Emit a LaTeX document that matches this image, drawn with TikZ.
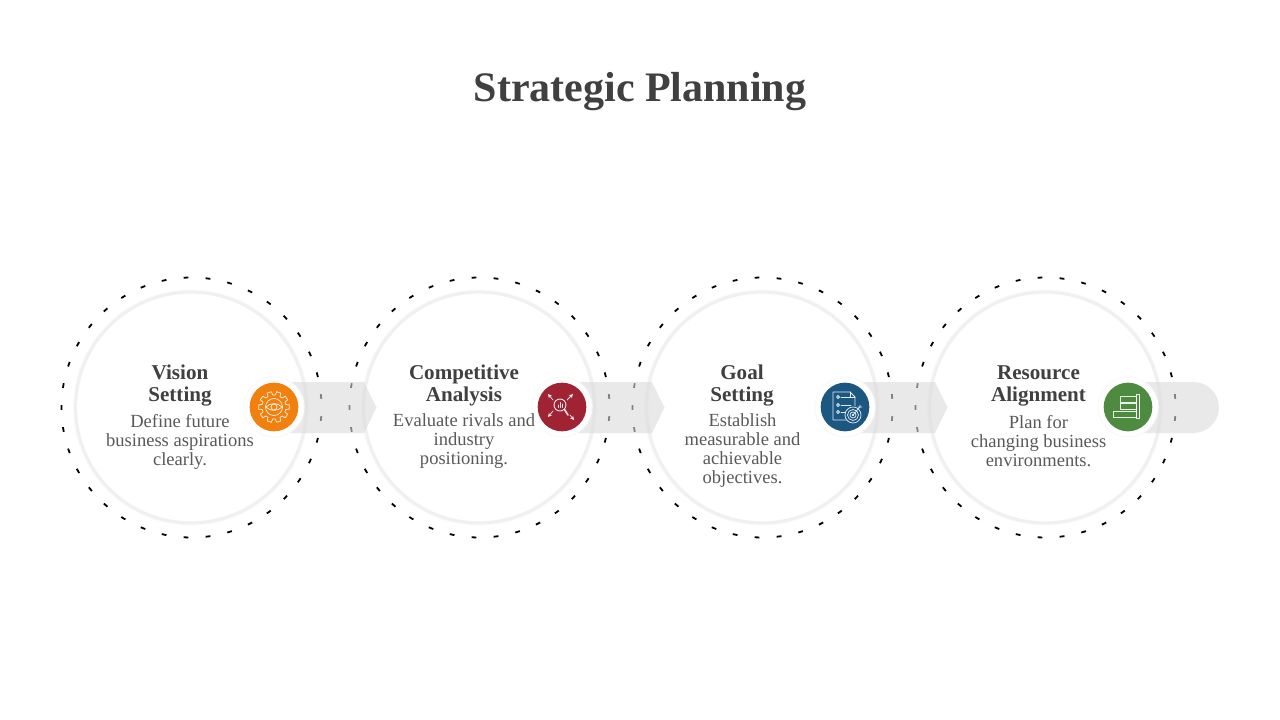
\documentclass[tikz,border=0pt]{standalone}
\usepackage{fontspec}
\setmainfont{Liberation Serif}
\definecolor{headc}{HTML}{404040}
\definecolor{bodyc}{HTML}{595959}
\definecolor{ringc}{HTML}{F0F0F0}
\definecolor{ringo}{HTML}{F9F9F9}
\definecolor{bandc}{HTML}{DBDBDB}
\definecolor{orangeb}{HTML}{F1800E}
\definecolor{redb}{HTML}{A02334}
\definecolor{blueb}{HTML}{1B5781}
\definecolor{greenb}{HTML}{4E8A3F}
\usetikzlibrary{arrows.meta}
\tikzset{
  x=0.75pt,y=-0.75pt,
  dashring/.style={draw=black,line width=1.35pt,line cap=butt,dash pattern=on 3.6pt off 12.96pt,dash phase=1.8pt},
  disc/.style={circle,fill=white,draw=ringc,line width=2.2pt,inner sep=0pt,outer sep=0pt,minimum size=173pt,
     preaction={draw=ringo,line width=4pt}},
  band/.style={fill=bandc,fill opacity=.6,draw=none},
  halo/.style={circle,fill=white,draw=ringo,line width=.8pt,inner sep=0pt,minimum size=45pt},
  badge/.style={circle,inner sep=0pt,minimum size=36.5pt,fill=#1},
  icon/.style={draw=white,line width=.55pt,line join=round,line cap=round,opacity=.88},
  head/.style={font=\fontsize{15.8pt}{16.5pt}\selectfont\bfseries,text=headc,align=center,inner sep=0pt},
  desc/.style={font=\fontsize{13.9pt}{14.25pt}\selectfont,text=bodyc,align=center,inner sep=0pt},
  tip/.style={-{Stealth[length=3pt,width=3pt]}},
}
\begin{document}
\begin{tikzpicture}
\useasboundingbox (0,0) rectangle (1280,720);
\node[font=\fontsize{31.5pt}{34pt}\selectfont\bfseries,text=headc,inner sep=0pt] (title) at (640,92) {Strategic Planning};
% dashed rings
\foreach \c in {191.5,479.5,762.5,1045.5}{
  \draw[dashring] (\c-130,407.5) arc[start angle=180,end angle=-180,radius=130];
}
% discs
\node[disc] (d1) at (191,407.5) {};
\node[disc] (d2) at (479,407.5) {};
\node[disc] (d3) at (762,407.5) {};
\node[disc] (d4) at (1045,407.5) {};
% bands
\fill[band] (274,382) -- (364,382) -- (376.5,407.5) -- (364,433) -- (274,433) -- cycle;
\fill[band] (561,382) -- (652,382) -- (664.5,407.5) -- (652,433) -- (561,433) -- cycle;
\fill[band] (845,382) -- (935,382) -- (947.5,407.5) -- (935,433) -- (845,433) -- cycle;
\fill[band] (1128,382) -- (1193.5,382) arc[start angle=-90,end angle=90,radius=25.5] -- (1128,433) -- cycle;
% badges
\node[halo] (h1) at (274,407) {};
\node[halo] (h2) at (562,407) {};
\node[halo] (h3) at (845,407) {};
\node[halo] (h4) at (1128,407) {};
\node[badge=orangeb] (b1) at (274,407) {};
\node[badge=redb] (b2) at (562,407) {};
\node[badge=blueb] (b3) at (845,407) {};
\node[badge=greenb] (b4) at (1128,407) {};
% texts
\node[head] (t1) at (180,385.5) {Vision\\Setting};
\node[desc] (s1) at (180,441.5) {Define future\\business aspirations\\clearly.};
\node[head] (t2) at (464,385.5) {Competitive\\Analysis};
\node[desc] (s2) at (464,441.5) {Evaluate rivals and\\industry\\positioning.};
\node[head] (t3) at (742,385.5) {Goal\\Setting};
\node[desc] (s3) at (742.5,451) {Establish\\measurable and\\achievable\\objectives.};
\node[head] (t4) at (1038.5,385.5) {Resource\\Alignment};
\node[desc] (s4) at (1038.5,441) {Plan for\\changing business\\environments.};
% icon 1: gear + eye
\begin{scope}[shift={(274,407)},icon]
  \foreach \a in {0,36,...,324}{
    \draw (\a-8:15.5) -- (\a+8:15.5) -- (\a+12:12) arc[start angle=\a+12,end angle=\a+24,radius=12] -- (\a+28:15.5);
  }
  \draw (0,0) circle[radius=8.5];
  \draw (-8,0) .. controls (-4,-4.5) and (4,-4.5) .. (8,0) .. controls (4,4.5) and (-4,4.5) .. (-8,0) -- cycle;
  \draw (0,0) circle[radius=3];
\end{scope}
% icon 2: magnifier with arrows
\begin{scope}[shift={(562,407)},icon]
  \draw[line width=.7pt] (-2,-2) circle[radius=6];
  \draw[line width=1.2pt] (2.5,2.5) -- (6,8);
  \draw (-4,0.5) -- (-4,-2) (-2,0.5) -- (-2,-4.5) (0,0.5) -- (0,-3);
  \draw[tip] (-9,-7) -- (-14,-13);
  \draw[tip] (5,-7) -- (11,-13);
  \draw[tip] (-9,4) -- (-14,10);
  \draw[tip] (8,8) -- (12,13);
\end{scope}
% icon 3: document with target
\begin{scope}[shift={(845,407)},icon]
  \draw (5,13) -- (-12,13) -- (-12,-15) -- (5,-15) -- (10,-10) -- (10,-1);
  \draw (5,-15) -- (5,-10) -- (10,-10);
  \foreach \y in {-10,-2,5}{
    \draw (-7,\y) circle[radius=1.5];
    \draw (-4,\y) -- (6,\y);
  }
  \fill[blueb,draw=none,opacity=1] (8,8) circle[radius=8.5];
  \draw (8,8) circle[radius=8] (8,8) circle[radius=5.5] (8,8) circle[radius=3] (8,8) circle[radius=.8];
  \draw (8,8) -- (15,0) (13,0) -- (15,0) -- (15,-2) (15,0) -- (17,0);
\end{scope}
% icon 4: align bars
\begin{scope}[shift={(1128,407)},icon]
  \draw (8,-13) rectangle (11,11);
  \draw (-8,-11) rectangle (8,-5);
  \draw (-8,-4) rectangle (8,2);
  \draw (-15,4) rectangle (8,10);
\end{scope}
\end{tikzpicture}
\end{document}
